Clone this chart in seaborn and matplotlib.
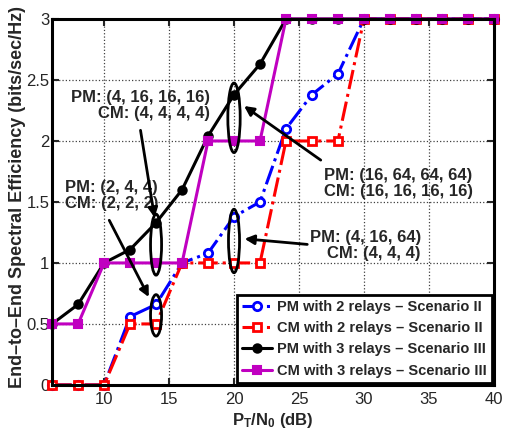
import numpy as np
import pandas as pd
import seaborn as sns
import matplotlib
matplotlib.use("Agg")
import matplotlib.pyplot as plt
from matplotlib.patches import Ellipse

# data
snr_db = [6, 8, 10, 12, 14, 16, 18, 20, 22, 24, 26, 28, 30, 32, 34, 36, 38, 40]
pm_2_relays = [0, 0, 0, 0.56, 0.66, 1.0, 1.08, 1.38, 1.5, 2.1, 2.38, 2.55, 3, 3, 3, 3, 3, 3]
cm_2_relays = [0, 0, 0, 0.5, 0.5, 1, 1, 1, 1, 2, 2, 2, 3, 3, 3, 3, 3, 3]
pm_3_relays = [0.5, 0.66, 1.0, 1.11, 1.33, 1.6, 2.04, 2.38, 2.63, 3, 3, 3, 3, 3, 3, 3, 3, 3]
cm_3_relays = [0.5, 0.5, 1, 1, 1, 1, 2, 2, 2, 3, 3, 3, 3, 3, 3, 3, 3, 3]

series_labels = ["PM with 2 relays \u2013 Scenario II",
                 "CM with 2 relays \u2013 Scenario II",
                 "PM with 3 relays \u2013 Scenario III",
                 "CM with 3 relays \u2013 Scenario III"]

sns.set_style("ticks")
plt.rcParams['font.family'] = ['Liberation Sans', 'DejaVu Sans']
plt.rcParams['mathtext.fontset'] = 'custom'
plt.rcParams['mathtext.bf'] = 'Liberation Sans:bold'
plt.rcParams['mathtext.rm'] = 'Liberation Sans'

fig = plt.figure(figsize=(5.06, 4.32), dpi=100)
ax = fig.add_axes([0.103, 0.109, 0.873, 0.847])

styles = [
    dict(color="blue", linestyle="-.", marker="o", markerfacecolor="white", markeredgecolor="blue",
         markersize=6, markeredgewidth=2),
    dict(color="red", linestyle="-.", marker="s", markerfacecolor="white", markeredgecolor="red",
         markersize=6, markeredgewidth=2),
    dict(color="black", linestyle="-", marker="o", markerfacecolor="black", markeredgecolor="black",
         markersize=6, markeredgewidth=1.5),
    dict(color="#c000c0", linestyle="-", marker="s", markerfacecolor="#c000c0", markeredgecolor="#c000c0",
         markersize=6, markeredgewidth=1.5),
]

for yvals, lab, st in zip([pm_2_relays, cm_2_relays, pm_3_relays, cm_3_relays], series_labels, styles):
    sns.lineplot(x=snr_db, y=yvals, ax=ax, label=lab, linewidth=2.2, clip_on=False, **st)

ax.set_xlim(6, 40)
ax.set_ylim(0, 3)
ax.set_xticks([10, 15, 20, 25, 30, 35, 40])
ax.set_yticks([0, 0.5, 1, 1.5, 2, 2.5, 3])
ax.set_yticklabels(["0", "0.5", "1", "1.5", "2", "2.5", "3"])
ax.tick_params(direction="in", top=True, right=True, length=5, width=1.5, labelsize=12)
ax.tick_params(axis="x", pad=5)
ax.tick_params(axis="y", pad=2)
ax.grid(True, linestyle=":", color="black", linewidth=0.9, alpha=0.75)
for sp in ax.spines.values():
    sp.set_linewidth(2.2)
    sp.set_color("black")

ax.set_xlabel(r"$\mathbf{P_T/N_0}$ (dB)", fontsize=12, fontweight="bold")
ax.set_ylabel("End\u2013to\u2013End Spectral Efficiency (bits/sec/Hz)", fontsize=13, fontweight="bold")
ax.yaxis.set_label_coords(-0.059, 0.514)
ax.xaxis.set_label_coords(0.5, -0.07)

# ellipses around the marked points
for cx, cy, w, h in [(14, 0.57, 0.85, 0.34), (14, 1.15, 0.85, 0.5),
                     (20, 1.18, 0.85, 0.52), (20, 2.19, 0.95, 0.57)]:
    ax.add_patch(Ellipse((cx, cy), w, h, fill=False, edgecolor="black", linewidth=2, zorder=5))

arrow = dict(arrowstyle="-|>", color="black", lw=2, mutation_scale=14)
fs = 12
ax.annotate("", xy=(13.92, 1.35), xytext=(12.77, 2.11), arrowprops=arrow, zorder=6)
ax.annotate("", xy=(13.54, 0.70), xytext=(10.3, 1.37), arrowprops=arrow, zorder=6)
ax.annotate("", xy=(20.6, 2.30), xytext=(26.85, 1.83), arrowprops=arrow, zorder=6)
ax.annotate("", xy=(20.6, 1.20), xytext=(25.85, 1.15), arrowprops=arrow, zorder=6)

ax.text(18.15, 2.29, "PM: (4, 16, 16, 16)\nCM: (4, 4, 4, 4)", ha="right", va="center",
        multialignment="right", fontsize=fs, fontweight="bold", linespacing=1.1)
ax.text(7.0, 1.55, "PM: (2, 4, 4)\nCM: (2, 2, 2)", ha="left", va="center",
        multialignment="left", fontsize=fs, fontweight="bold", linespacing=1.1)
ax.text(32.65, 1.65, "PM: (16, 64, 64, 64)\nCM: (16, 16, 16, 16)", ha="center", va="center",
        multialignment="center", fontsize=fs, fontweight="bold", linespacing=1.1)
ax.text(30.1, 1.14, "PM: (4, 16, 64)\nCM: (4, 4, 4)", ha="center", va="center",
        multialignment="right", fontsize=fs, fontweight="bold", linespacing=1.1)

leg = ax.legend(loc="lower right", prop={"weight": "bold", "size": 10.5},
                handlelength=2.1, handletextpad=0.3, labelspacing=0.5, borderpad=0.35,
                fancybox=False, framealpha=1, edgecolor="black", borderaxespad=0.15)
leg.get_frame().set_linewidth(2)

fig.savefig("out.png", dpi=100)
